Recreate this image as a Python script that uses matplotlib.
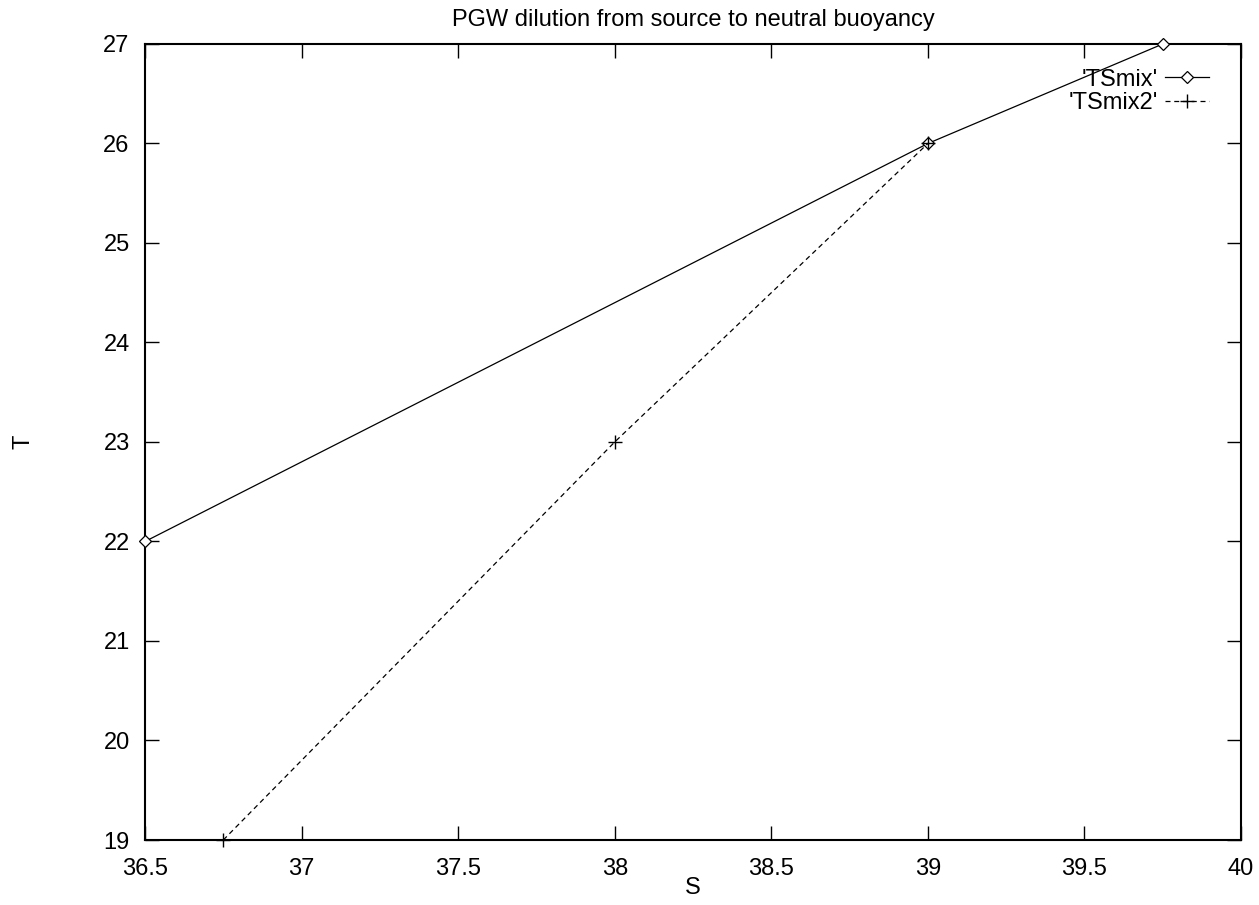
import matplotlib
matplotlib.use("Agg")
import matplotlib.pyplot as plt

s1 = [36.5, 39.0, 39.75]
t1 = [22, 26, 27]
s2 = [36.75, 38.0, 39.0]
t2 = [19, 23, 26]
xticks = [36.5, 37, 37.5, 38, 38.5, 39, 39.5, 40]
yticks = [19, 20, 21, 22, 23, 24, 25, 26, 27]

plt.rcParams['font.family'] = ['Liberation Sans', 'DejaVu Sans']
fig = plt.figure(figsize=(12.59, 9.05), dpi=100)
ax = fig.add_axes([145/1259, 1-840/905, (1241-145)/1259, (840-44)/905])

ax.plot(s1, t1, color='black', lw=0.9, marker='D', markersize=6, markerfacecolor='white',
        markeredgecolor='black', markeredgewidth=0.9, label="'TSmix'", clip_on=False, zorder=3)
ax.plot(s2, t2, color='black', lw=0.9, ls=(0, (4, 3)), marker='+', markersize=10,
        markeredgewidth=1.0, label="'TSmix2'", clip_on=False, zorder=3)

ax.set_xlim(36.5, 40)
ax.set_ylim(19, 27)
ax.set_xticks(xticks)
ax.set_xticklabels([f"{v:g}" for v in xticks])
ax.set_yticks(yticks)
ax.tick_params(direction='in', length=10, width=1, top=True, right=True, labelsize=17)
ax.tick_params(axis='x', pad=13)
ax.tick_params(axis='y', pad=11)
for sp in ax.spines.values():
    sp.set_linewidth(1.5)

ax.set_title('PGW dilution from source to neutral buoyancy', fontsize=17, pad=13)
ax.set_xlabel('S', fontsize=17, labelpad=-2)
ax.yaxis.set_label_coords(-110/1096, 0.5)
ax.set_ylabel('T', fontsize=17)

leg = ax.legend(loc='upper right', bbox_to_anchor=((1209-145)/1096, 0.969), frameon=False,
                markerfirst=False, fontsize=17, handlelength=1.87, handletextpad=0.3,
                labelspacing=0.05, borderaxespad=0.0, borderpad=0.0)

fig.savefig('out.png', dpi=100)
